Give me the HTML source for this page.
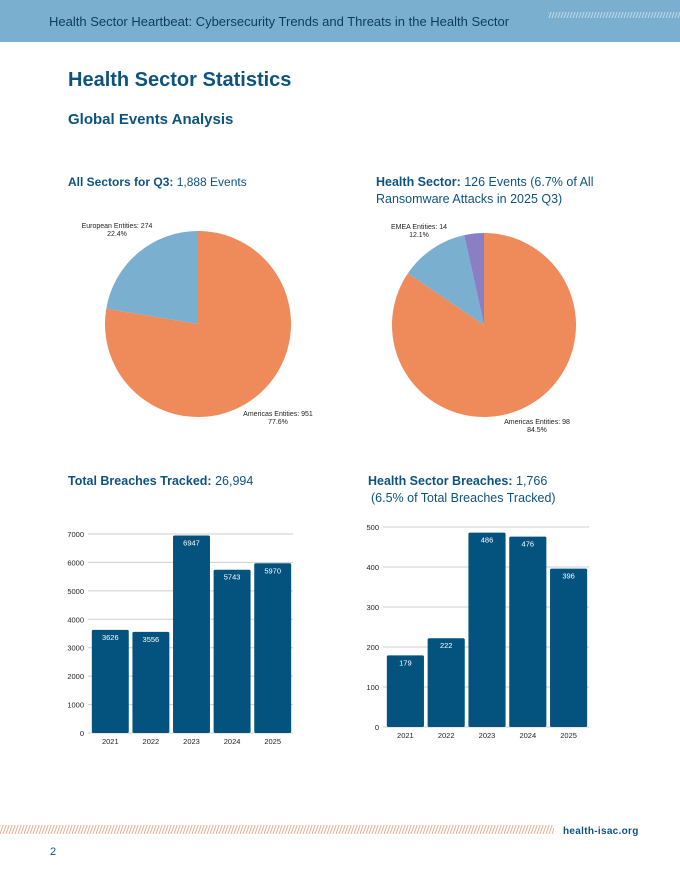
<!DOCTYPE html>
<html><head><meta charset="utf-8">
<style>
html,body{margin:0;padding:0;background:#fff;}
body{width:680px;height:880px;overflow:hidden;font-family:"Liberation Sans",sans-serif;}
svg text{font-family:"Liberation Sans",sans-serif;}
</style></head>
<body>
<svg id="page" width="680" height="880" viewBox="0 0 680 880" xmlns="http://www.w3.org/2000/svg">
<defs>
<pattern id="hatchW" width="3" height="6" patternUnits="userSpaceOnUse" patternTransform="skewX(-20)"><rect width="1" height="6" fill="#ffffff" opacity="0.55"/></pattern>
<pattern id="hatchO" width="3" height="8" patternUnits="userSpaceOnUse" patternTransform="skewX(-20)"><rect width="1" height="8" fill="#f2a98a"/></pattern>
</defs>
<rect x="0" y="0" width="680" height="42" fill="#7bafd0"/>
<text x="49" y="26" font-size="13" fill="#0d3b5e">Health Sector Heartbeat: Cybersecurity Trends and Threats in the Health Sector</text>
<rect x="548" y="12" width="132" height="6" fill="url(#hatchW)"/>
<text x="68" y="86" font-size="20" font-weight="bold" fill="#0d5380">Health Sector Statistics</text>
<text x="68" y="124" font-size="15" font-weight="bold" fill="#0d5380">Global Events Analysis</text>

<text x="68" y="186" font-size="12" fill="#0d5380"><tspan font-weight="bold">All Sectors for Q3:</tspan> 1,888 Events</text>
<text x="376" y="186" font-size="12.5" fill="#0d5380"><tspan font-weight="bold">Health Sector:</tspan> 126 Events (6.7% of All</text>
<text x="376" y="203" font-size="12.5" fill="#0d5380">Ransomware Attacks in 2025 Q3)</text>

<g id="pie1"></g>
<g id="pie2"></g>

<text x="68" y="485" font-size="12.5" fill="#0d5380"><tspan font-weight="bold">Total Breaches Tracked:</tspan> 26,994</text>
<text x="368" y="485" font-size="12.5" fill="#0d5380"><tspan font-weight="bold">Health Sector Breaches:</tspan> 1,766</text>
<text x="371" y="502" font-size="12.5" fill="#0d5380">(6.5% of Total Breaches Tracked)</text>

<g id="bar1"></g>
<g id="bar2"></g>

<rect x="0" y="825" width="554" height="9" fill="url(#hatchO)"/>
<text x="563" y="834" font-size="10" font-weight="bold" fill="#0d5380" letter-spacing="0.3">health-isac.org</text>
<text x="50" y="855" font-size="11" fill="#0d5380">2</text>
</svg>
<script>
// Pie 1 data
const pie1Labels = ["Americas Entities", "European Entities"];
const pie1Values = [951, 274];
const pie1Pct = ["77.6%", "22.4%"];
// Pie 2 data
const pie2Labels = ["Americas Entities", "EMEA Entities", "Other Entities"];
const pie2Values = [98, 14, 4];
const pie2Pct = ["84.5%", "12.1%", "3.4%"];
const pieColors = ["#ef8a5a", "#7bafd0", "#8a7fc2"];
// Bar 1 data
const bar1Cats = ["2021", "2022", "2023", "2024", "2025"];
const bar1Values = [3626, 3556, 6947, 5743, 5970];
const bar1Ticks = [0, 1000, 2000, 3000, 4000, 5000, 6000, 7000];
// Bar 2 data
const bar2Cats = ["2021", "2022", "2023", "2024", "2025"];
const bar2Values = [179, 222, 486, 476, 396];
const bar2Ticks = [0, 100, 200, 300, 400, 500];

const NS = "http://www.w3.org/2000/svg";
function mk(tag, attrs, parent) {
  const e = document.createElementNS(NS, tag);
  for (const k in attrs) e.setAttribute(k, attrs[k]);
  parent.appendChild(e);
  return e;
}

function drawPie(g, cx, cy, r, values, labels, pcts, labelSpecs) {
  const total = values.reduce((a, b) => a + b, 0);
  let a0 = 0;
  values.forEach((v, i) => {
    const a1 = a0 + v / total * Math.PI * 2;
    const x0 = cx + r * Math.sin(a0), y0 = cy - r * Math.cos(a0);
    const x1 = cx + r * Math.sin(a1), y1 = cy - r * Math.cos(a1);
    const large = (a1 - a0) > Math.PI ? 1 : 0;
    const p = mk("path", {d: `M${cx},${cy} L${x0},${y0} A${r},${r} 0 ${large} 1 ${x1},${y1} Z`, fill: pieColors[i]}, g);
    
    
    a0 = a1;
  });
  labelSpecs.forEach(s => {
    const i = s.i;
    const t = mk("text", {x: s.x, y: s.y, "font-size": "7", fill: "#222", "text-anchor": "middle"}, g);
    
    
    t.textContent = labels[i] + ": " + values[i];
    const t2 = mk("text", {x: s.x, y: s.y + 8, "font-size": "7", fill: "#222", "text-anchor": "middle"}, g);
    
    
    t2.textContent = pcts[i];
  });
}

drawPie(document.getElementById("pie1"), 198, 324, 93, pie1Values, pie1Labels, pie1Pct,
  [{i: 0, x: 278, y: 416}, {i: 1, x: 117, y: 228}]);
drawPie(document.getElementById("pie2"), 484, 325, 92, pie2Values, pie2Labels, pie2Pct,
  [{i: 0, x: 537, y: 424}, {i: 1, x: 419, y: 229}]);

function drawBars(g, cats, values, ticks, x0, x1, yBase, yTop, tickX) {
  const vmax = ticks[ticks.length - 1];
  const yS = v => yBase - (v / vmax) * (yBase - yTop);
  const band = (x1 - x0) / cats.length;
  const bw = band * 0.91;
  ticks.forEach(t => {
    const y = yS(t);
    const l = mk("line", {x1: x0 - 2, x2: x1, y1: y, y2: y, stroke: "#cfcfcf", "stroke-width": "1"}, g);
    
    
    const tl = mk("text", {x: tickX, y: y + 3, "font-size": "7.5", fill: "#222", "text-anchor": "end"}, g);
    
    
    tl.textContent = t;
  });
  cats.forEach((c, i) => {
    const bx = x0 + i * band + (band - bw) / 2;
    const y = yS(values[i]);
    const b = mk("rect", {x: bx, y: y, width: bw, height: yBase - y, fill: "#04537f", rx: "1.5"}, g);
    
    
    const vl = mk("text", {x: bx + bw / 2, y: y + 10, "font-size": "7.5", fill: "#fff", "text-anchor": "middle"}, g);
    
    
    vl.textContent = values[i];
    const xl = mk("text", {x: bx + bw / 2, y: yBase + 11, "font-size": "7.5", fill: "#222", "text-anchor": "middle"}, g);
    
    
    xl.textContent = c;
  });
}

drawBars(document.getElementById("bar1"), bar1Cats, bar1Values, bar1Ticks, 90, 293, 733, 534, 84);
drawBars(document.getElementById("bar2"), bar2Cats, bar2Values, bar2Ticks, 385, 589, 727, 527, 379);
</script>
</body></html>
